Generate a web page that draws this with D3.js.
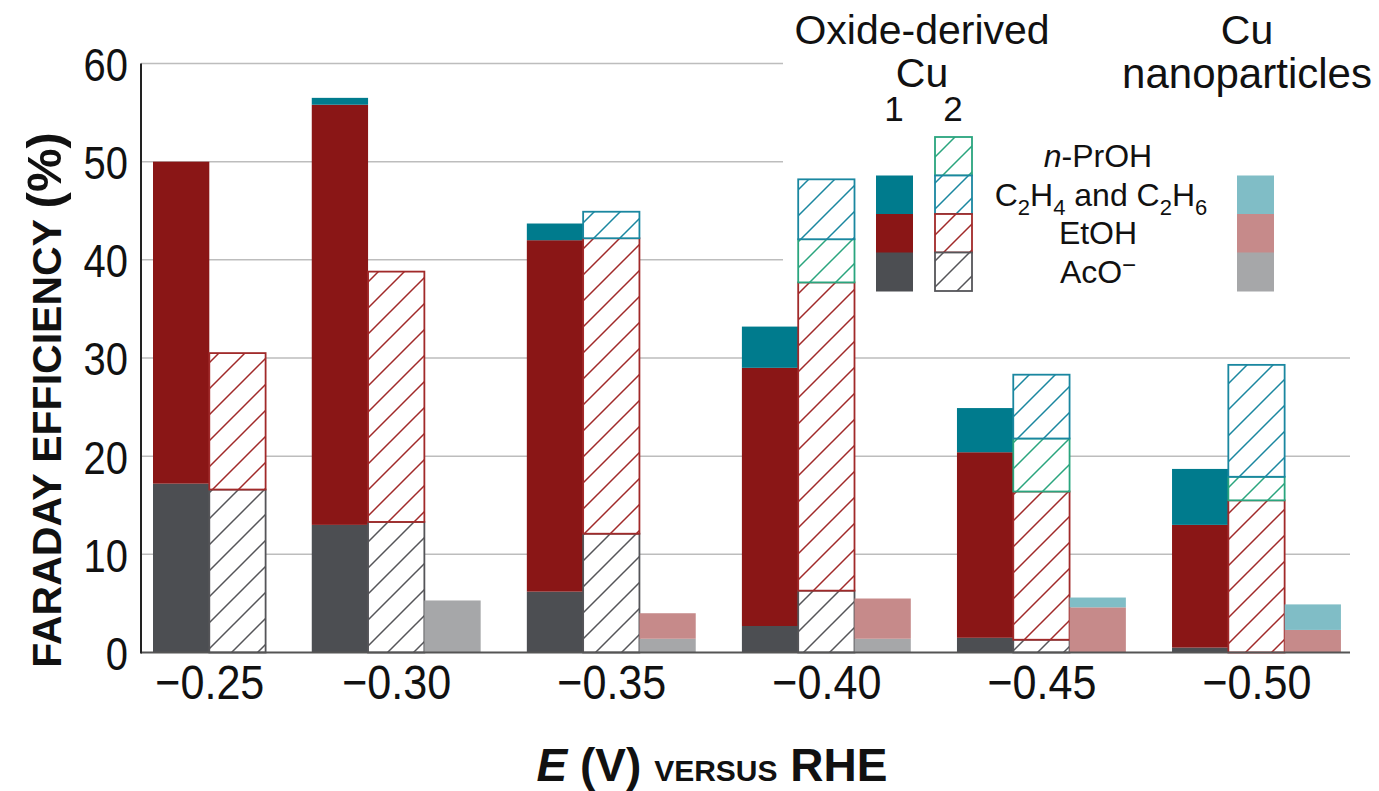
<!DOCTYPE html>
<html>
<head>
<meta charset="utf-8">
<script src="https://cdn.jsdelivr.net/npm/d3@7"></script>
<style>
  html, body { margin: 0; padding: 0; background: #fff; }
  svg { display: block; }
  text { font-family: "Liberation Sans", Arial, Helvetica, sans-serif; fill: #111; }
</style>
</head>
<body>
<svg id="chart" width="1379" height="791"></svg>
<script>
// ---------------- DATA ----------------
const potentials = ["\u22120.25", "\u22120.30", "\u22120.35", "\u22120.40", "\u22120.45", "\u22120.50"];
const yTicks = [0, 10, 20, 30, 40, 50, 60];
const products = ["AcO", "EtOH", "PrOH", "C2"];

// Oxide-derived Cu 1 (solid bars), segment values in %
const od1AcO  = [17.2, 13.0, 6.2, 2.7, 1.5, 0.5];
const od1EtOH = [32.8, 42.8, 35.8, 26.3, 18.9, 12.5];
const od1PrOH = [0, 0, 0, 0, 0, 0];
const od1C2   = [0, 0.7, 1.7, 4.2, 4.5, 5.7];

// Oxide-derived Cu 2 (hatched bars)
const od2AcO  = [16.6, 13.3, 12.1, 6.3, 1.3, 0];
const od2EtOH = [13.9, 25.5, 30.1, 31.4, 15.1, 15.5];
const od2PrOH = [0, 0, 0, 4.4, 5.4, 2.4];
const od2C2   = [0, 0, 2.7, 6.1, 6.5, 11.4];

// Cu nanoparticles (pale bars); null = not measured
const npAcO  = [null, 5.3, 1.4, 1.4, 0, 0];
const npEtOH = [null, 0, 2.6, 4.1, 4.6, 2.3];
const npPrOH = [null, 0, 0, 0, 0, 0];
const npC2   = [null, 0, 0, 0, 1.0, 2.6];

// ---------------- STYLE ----------------
const solidColor = { AcO: "#4c4e52", EtOH: "#8a1616", PrOH: "#28a27c", C2: "#007b8d" };
const paleColor  = { AcO: "#a6a7a9", EtOH: "#c68a8a", PrOH: "#8fd1bb", C2: "#80bdc6" };
const hatchColor = { AcO: "#555559", EtOH: "#a12a2a", PrOH: "#2aa57e", C2: "#1a87a0" };

const W = 1379, H = 791;
const svg = d3.select("#chart");
svg.append("rect").attr("width", W).attr("height", H).attr("fill", "#fff");

const y = d3.scaleLinear().domain([0, 60]).range([652.5, 63.5]);

function rowsFor(a, e, p, c) {
  return potentials.map((pot, i) => ({ pot, AcO: a[i], EtOH: e[i], PrOH: p[i], C2: c[i] }));
}
const series = [
  { kind: "od1", rows: rowsFor(od1AcO, od1EtOH, od1PrOH, od1C2) },
  { kind: "od2", rows: rowsFor(od2AcO, od2EtOH, od2PrOH, od2C2) },
  { kind: "np",  rows: rowsFor(npAcO, npEtOH, npPrOH, npC2) }
];

// Layout in "bar units": bars of width 1, groups separated by a gap
const gapUnits = 0.82;
const slots = [];
const groupSpan = [];
let u = 0;
potentials.forEach((pot, gi) => {
  const start = u;
  series.forEach(s => {
    if (s.rows[gi].AcO === null) return;
    slots.push({ gi, kind: s.kind, u });
    u += 1;
  });
  groupSpan.push([start, u]);
  u += gapUnits;
});
const totalU = u - gapUnits;
const x = d3.scaleLinear().domain([0, totalU]).range([153, 153 + totalU * 56.3]);
const bw = x(1) - x(0);

// ---------------- PATTERNS ----------------
const defs = svg.append("defs");
products.forEach(k => {
  const p = defs.append("pattern").attr("id", "hatch-" + k)
    .attr("patternUnits", "userSpaceOnUse").attr("width", 26).attr("height", 26);
  p.append("rect").attr("width", 26).attr("height", 26).attr("fill", "#fff");
  p.append("path").attr("d", "M-6.5,6.5 L6.5,-6.5 M0,26 L26,0 M19.5,32.5 L32.5,19.5")
    .attr("stroke", hatchColor[k]).attr("stroke-width", 1.5).attr("fill", "none");
});

// ---------------- GRID ----------------
const plotRight = 1350, legendCut = 783;
svg.append("g").selectAll("line").data(yTicks.filter(t => t > 0)).join("line")
  .attr("x1", 141).attr("x2", d => d >= 40 ? legendCut : plotRight)
  .attr("y1", d => y(d)).attr("y2", d => y(d))
  .attr("stroke", "#bdbdbd").attr("stroke-width", 1.5);

// ---------------- BARS ----------------
const stack = d3.stack().keys(products).value((d, k) => d[k] || 0);
const barG = svg.append("g");
series.forEach(s => {
  const stacked = stack(s.rows);
  stacked.forEach(layer => {
    const k = layer.key;
    layer.forEach((seg, gi) => {
      if (s.rows[gi].AcO === null) return;
      const val = seg[1] - seg[0];
      if (val <= 0) return;
      const slot = slots.find(sl => sl.gi === gi && sl.kind === s.kind);
      const r = barG.append("rect")
        .attr("x", x(slot.u)).attr("width", bw)
        .attr("y", y(seg[1])).attr("height", y(seg[0]) - y(seg[1]));
      if (s.kind === "od1") r.attr("fill", solidColor[k]);
      else if (s.kind === "np") r.attr("fill", paleColor[k]);
      else r.attr("fill", "url(#hatch-" + k + ")").attr("stroke", hatchColor[k]).attr("stroke-width", 1.8);
    });
  });
});

// ---------------- AXES ----------------
const yAxis = d3.axisLeft(y).tickValues(yTicks).tickSize(0).tickPadding(13).tickFormat(d3.format("d"));
const gy = svg.append("g").attr("transform", "translate(141,0)").call(yAxis);
gy.select(".domain").remove();
gy.selectAll(".tick text").attr("font-size", 47).attr("fill", "#111").attr("dy", "0.36em")
  .attr("transform", "scale(0.85,1)").attr("x", -13 / 0.85);

const centers = groupSpan.map(([a, b]) => (x(a) + x(b)) / 2);
const xLab = d3.scaleOrdinal().domain(potentials).range(centers);
const xAxis = d3.axisBottom(xLab).tickSize(0).tickPadding(12);
const gx = svg.append("g").attr("transform", `translate(0,${y(0)})`).call(xAxis);
gx.select(".domain").remove();
gx.selectAll(".tick text").attr("font-size", 49).attr("fill", "#111").attr("transform", "scale(0.88,1)");

svg.append("line").attr("x1", 141).attr("x2", plotRight).attr("y1", y(0)).attr("y2", y(0))
  .attr("stroke", "#555").attr("stroke-width", 2.2);
svg.append("line").attr("x1", 141).attr("x2", 141).attr("y1", y(60)).attr("y2", y(0) + 1)
  .attr("stroke", "#222").attr("stroke-width", 2);

// Axis titles
const yt = svg.append("text").attr("transform", "translate(61,400) rotate(-90)")
  .attr("text-anchor", "middle").attr("font-weight", "bold");
yt.append("tspan").attr("font-size", 41).text("FARADAY EFFICIENCY ");
yt.append("tspan").attr("font-size", 49).text("(%)");

const xt = svg.append("text").attr("x", 712).attr("y", 781)
  .attr("text-anchor", "middle").attr("font-weight", "bold");
xt.append("tspan").attr("font-size", 46).attr("font-style", "italic").text("E");
xt.append("tspan").attr("font-size", 46).text(" (V) ");
xt.append("tspan").attr("font-size", 30).text("VERSUS");
xt.append("tspan").attr("font-size", 46).text(" RHE");

// ---------------- LEGEND ----------------
const lg = svg.append("g");
const headFont = 41;
lg.append("text").attr("x", 922).attr("y", 44).attr("text-anchor", "middle").attr("font-size", headFont).text("Oxide-derived");
lg.append("text").attr("x", 922).attr("y", 87).attr("text-anchor", "middle").attr("font-size", headFont).text("Cu");
lg.append("text").attr("x", 894).attr("y", 121).attr("text-anchor", "middle").attr("font-size", 35).text("1");
lg.append("text").attr("x", 953).attr("y", 121).attr("text-anchor", "middle").attr("font-size", 35).text("2");
lg.append("text").attr("x", 1247).attr("y", 44).attr("text-anchor", "middle").attr("font-size", headFont).text("Cu");
lg.append("text").attr("x", 1247).attr("y", 88).attr("text-anchor", "middle").attr("font-size", 42).text("nanoparticles");

const legendKeys = ["PrOH", "C2", "EtOH", "AcO"];
const rowY = d3.scaleBand().domain(legendKeys).range([137, 291]).paddingInner(0);
const rh = rowY.bandwidth();
legendKeys.forEach(k => {
  if (k !== "PrOH") {
    lg.append("rect").attr("x", 876).attr("y", rowY(k)).attr("width", 37).attr("height", rh + 0.5).attr("fill", solidColor[k]);
    lg.append("rect").attr("x", 1237).attr("y", rowY(k)).attr("width", 37).attr("height", rh + 0.5).attr("fill", paleColor[k]);
  }
  lg.append("rect").attr("x", 935).attr("y", rowY(k)).attr("width", 37).attr("height", rh)
    .attr("fill", "url(#hatch-" + k + ")").attr("stroke", hatchColor[k]).attr("stroke-width", 1.8);
});
const lt = (k) => rowY(k) + rh / 2 + 11;
const t1 = lg.append("text").attr("x", 1098).attr("y", lt("PrOH")).attr("text-anchor", "middle").attr("font-size", 32);
t1.append("tspan").attr("font-style", "italic").text("n");
t1.append("tspan").text("-PrOH");
const t2 = lg.append("text").attr("x", 1101).attr("y", lt("C2")).attr("text-anchor", "middle").attr("font-size", 32);
t2.append("tspan").text("C");
t2.append("tspan").attr("font-size", 22).attr("dy", 9).text("2");
t2.append("tspan").attr("dy", -9).text("H");
t2.append("tspan").attr("font-size", 22).attr("dy", 9).text("4");
t2.append("tspan").attr("dy", -9).text(" and C");
t2.append("tspan").attr("font-size", 22).attr("dy", 9).text("2");
t2.append("tspan").attr("dy", -9).text("H");
t2.append("tspan").attr("font-size", 22).attr("dy", 9).text("6");
lg.append("text").attr("x", 1098).attr("y", lt("EtOH")).attr("text-anchor", "middle").attr("font-size", 32).text("EtOH");
const t4 = lg.append("text").attr("x", 1098).attr("y", lt("AcO")).attr("text-anchor", "middle").attr("font-size", 32);
t4.append("tspan").text("AcO");
t4.append("tspan").attr("font-size", 24).attr("dy", -10).text("\u2212");
</script>
</body>
</html>
